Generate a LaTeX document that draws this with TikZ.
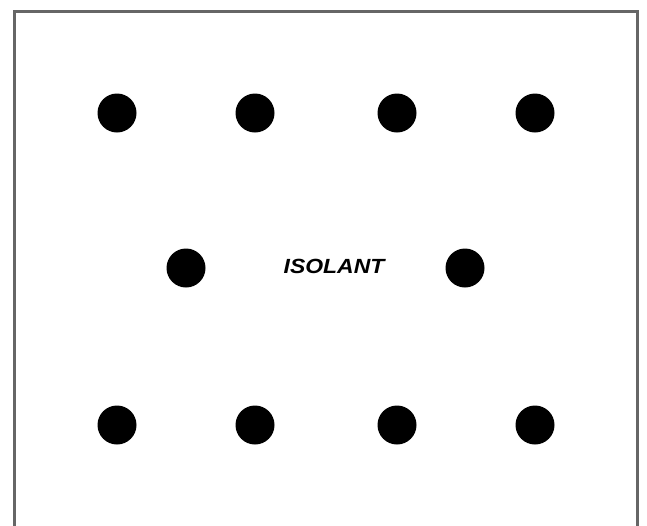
\documentclass[tikz,border=0pt]{standalone}
\usepackage{fontspec}
\setmainfont{Liberation Sans}
\begin{document}
\begin{tikzpicture}[x=1pt,y=-1pt,
  dot/.style={circle,fill=black,inner sep=0pt,minimum size=39pt},
  frame/.style={draw=black!60,line width=3pt},
  label/.style={font=\fontsize{20.5}{22}\selectfont\bfseries\itshape,xscale=1.12,inner sep=0pt}]
\useasboundingbox (0,0) rectangle (647,525);
\begin{scope}
\clip (0,0) rectangle (647,525);
\draw[frame] (14.5,11) rectangle (637.5,540);
\end{scope}
\node[dot] (t1) at (117,113) {};
\node[dot] (t2) at (255,113) {};
\node[dot] (t3) at (397,113) {};
\node[dot] (t4) at (535,113) {};
\node[dot] (m1) at (186,268) {};
\node[dot] (m2) at (465,268) {};
\node[dot] (b1) at (117,425) {};
\node[dot] (b2) at (255,425) {};
\node[dot] (b3) at (397,425) {};
\node[dot] (b4) at (535,425) {};
\node[label] (lbl) at (334,266) {ISOLANT};
\end{tikzpicture}
\end{document}
